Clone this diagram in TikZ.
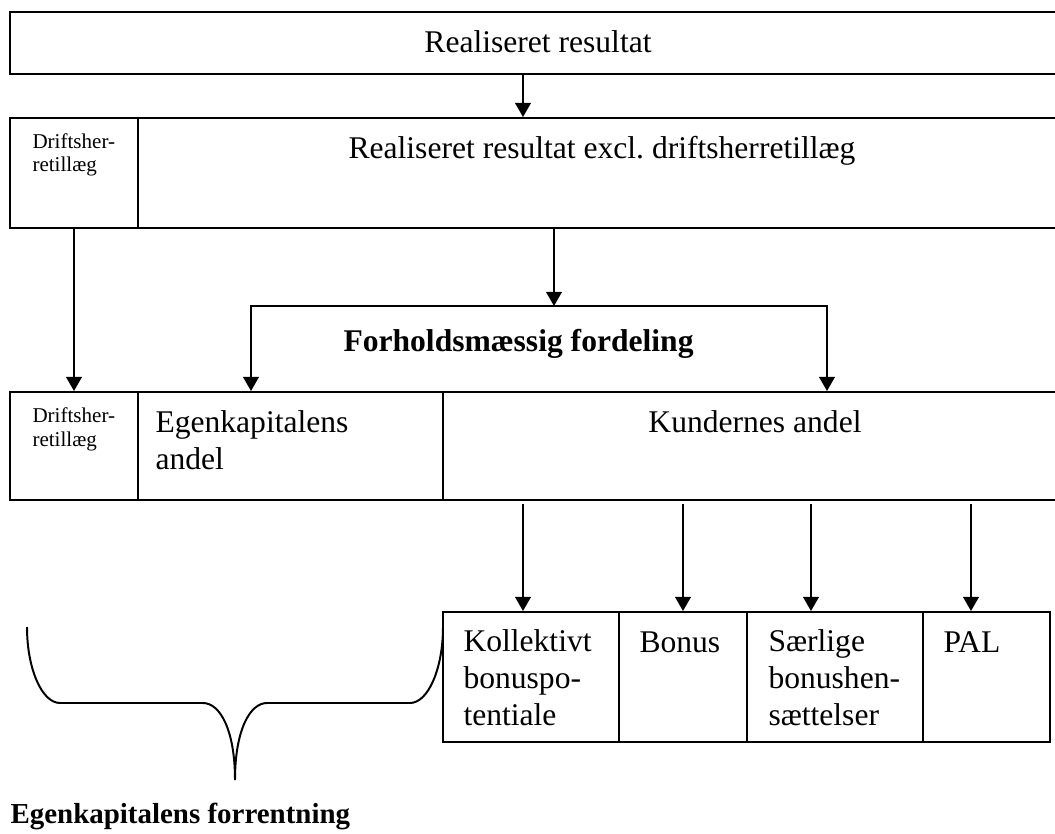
\documentclass[tikz,border=0pt]{standalone}
\usepackage{fontspec}
\setmainfont{Liberation Serif}
\usetikzlibrary{arrows.meta,fit}
\begin{document}
\begin{tikzpicture}[x=0.38pt,y=-0.38pt,
  box/.style={draw,line width=0.75pt,inner sep=0pt},
  arr/.style={line width=0.75pt,-{Triangle[width=6pt,length=5.4pt]}},
  arrboth/.style={line width=0.75pt,{Triangle[width=6pt,length=5.4pt]}-{Triangle[width=6pt,length=5.4pt]}},
  ln/.style={line width=0.75pt},
  txt/.style={inner sep=0pt,font=\fontsize{12}{13.9}\selectfont,align=left},
  small/.style={inner sep=0pt,font=\fontsize{8}{9.1}\selectfont,align=left},
  boldtxt/.style={inner sep=0pt,font=\fontsize{12}{13.9}\selectfont\bfseries},
]
\useasboundingbox (0,0) rectangle (1055,834);

% boxes
\node[box,fit={(10,12) (1065,74)}] (r1) {};
\node[box,fit={(10,118) (138,228)}] (d1) {};
\node[box,fit={(138,118) (1065,228)}] (r2) {};
\node[box,fit={(10,392) (138,500)}] (d2) {};
\node[box,fit={(138,392) (443,500)}] (ek) {};
\node[box,fit={(443,392) (1065,500)}] (ku) {};
\node[box,fit={(443,612) (619,742)}] (kb) {};
\node[box,fit={(619,612) (747,742)}] (bo) {};
\node[box,fit={(747,612) (923,742)}] (sb) {};
\node[box,fit={(923,612) (1050,742)}] (pal) {};

% texts (multi-line nodes are anchored at the baseline of their last line)
\node[txt,anchor=base] (t1) at (538,53) {Realiseret resultat};
\node[txt,anchor=base] (t2) at (602,158) {Realiseret resultat excl.\ driftsherretillæg};
\node[small,anchor=base west] (s1) at (32,172) {Driftsher-\\retillæg};
\node[small,anchor=base west] (s2) at (32,446) {Driftsher-\\retillæg};
\node[txt,anchor=base west] (ekt) at (155,469) {Egenkapitalens\\andel};
\node[txt,anchor=base] (kut) at (755,432) {Kundernes andel};
\node[boldtxt,anchor=base west] (ft) at (343,351) {Forholdsmæssig fordeling};
\node[txt,anchor=base west] (kbt) at (463,725) {Kollektivt\\bonuspo-\\tentiale};
\node[txt,anchor=base west] (bot) at (639,652) {Bonus};
\node[txt,anchor=base west] (sbt) at (768,725) {Særlige\\bonushen-\\sættelser};
\node[txt,anchor=base west] (palt) at (943,652) {PAL};
\node[boldtxt,font=\fontsize{11}{13}\selectfont\bfseries,anchor=base west] (eft) at (10,823) {Egenkapitalens forrentning};

% connectors
\coordinate (xa) at (523,0);
\coordinate (xc) at (554,0);
\coordinate (bl) at (251,306);
\coordinate (brr) at (827,306);
\coordinate (k1) at (523,0);
\coordinate (k2) at (683,0);
\coordinate (k3) at (811,0);
\coordinate (k4) at (971,0);

\draw[arr] (r1.south -| xa) -- (r2.north -| xa);
\draw[arr] (d1.south) -- (d2.north);
\draw[arr] (r2.south -| xc) -- (bl -| xc);
\draw[arrboth] (ek.north -| bl) -- (bl) -- (brr) -- (ku.north -| brr);
\draw[arr,shorten <=1.1pt] (ku.south -| k1) -- (kb.north -| k1);
\draw[arr,shorten <=1.1pt] (ku.south -| k2) -- (bo.north -| k2);
\draw[arr,shorten <=1.1pt] (ku.south -| k3) -- (sb.north -| k3);
\draw[arr,shorten <=1.1pt] (ku.south -| k4) -- (pal.north -| k4);

% brace
\draw[ln] (27,627) .. controls (27,669) and (42,703) .. (60,703) -- (203,703)
  .. controls (220,703) and (235,730) .. (235,780)
  .. controls (235,730) and (250,703) .. (267,703) -- (410,703)
  .. controls (428,703) and (443,669) .. (443,627);
\end{tikzpicture}
\end{document}
